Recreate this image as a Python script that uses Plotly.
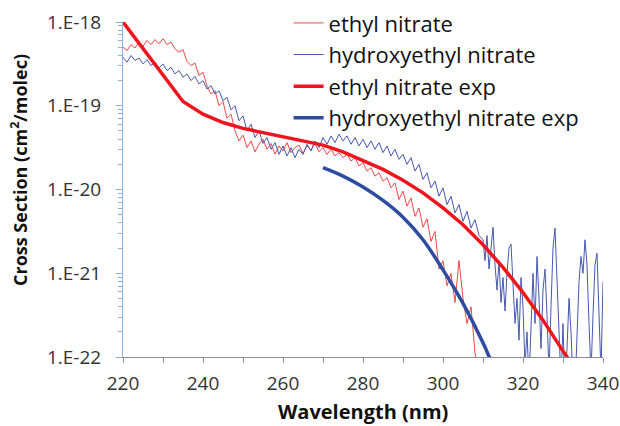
import plotly.graph_objects as go

# ---- data (log10 of cross section) ----
en_wl = list(range(220, 310))
en_log = [-18.30, -18.34, -18.27, -18.31, -18.24, -18.29, -18.22, -18.27, -18.21, -18.26,
          -18.20, -18.27, -18.24, -18.32, -18.36, -18.33, -18.47, -18.52, -18.49, -18.64,
          -18.60, -18.76, -18.86, -18.82, -19.00, -18.95, -19.15, -19.10, -19.30, -19.42,
          -19.35, -19.50, -19.42, -19.55, -19.46, -19.40, -19.52, -19.45, -19.58, -19.48,
          -19.54, -19.44, -19.56, -19.50, -19.47, -19.57, -19.48, -19.53, -19.45, -19.55,
          -19.50, -19.58, -19.52, -19.60, -19.56, -19.62, -19.58, -19.66, -19.62, -19.72,
          -19.68, -19.78, -19.74, -19.84, -19.80, -19.90, -19.86, -19.98, -19.92, -20.12,
          -20.02, -20.20, -20.10, -20.32, -20.22, -20.45, -20.35, -20.62, -20.50, -20.95,
          -20.85, -21.15, -21.00, -21.35, -20.85, -21.30, -21.60, -21.40, -21.95, -22.20]

hen_wl = list(range(220, 310)) + [310 + 0.5 * i for i in range(61)]
hen_log = [-18.42, -18.48, -18.40, -18.46, -18.43, -18.50, -18.45, -18.52, -18.48, -18.55,
           -18.50, -18.58, -18.54, -18.62, -18.58, -18.66, -18.62, -18.70, -18.65, -18.74,
           -18.70, -18.80, -18.76, -18.86, -18.82, -18.94, -18.90, -19.05, -19.00, -19.18,
           -19.12, -19.30, -19.22, -19.38, -19.30, -19.45, -19.38, -19.52, -19.44, -19.58,
           -19.48, -19.60, -19.50, -19.62, -19.52, -19.58, -19.46, -19.54, -19.42, -19.50,
           -19.38, -19.46, -19.36, -19.44, -19.34, -19.42, -19.36, -19.46, -19.38, -19.48,
           -19.40, -19.50, -19.42, -19.52, -19.44, -19.56, -19.48, -19.60, -19.52, -19.64,
           -19.58, -19.70, -19.62, -19.78, -19.70, -19.88, -19.80, -19.98, -19.90, -20.08,
           -19.98, -20.18, -20.08, -20.28, -20.18, -20.38, -20.26, -20.46, -20.36, -20.55,
           # 310 .. 340 step 0.5
           -20.60, -20.85, -20.55, -20.95, -20.70, -20.45, -20.90, -21.20, -20.85, -21.35,
           -21.05, -21.45, -21.00, -20.70, -20.65, -21.20, -21.60, -21.30, -21.80, -21.05,
           -21.40, -22.10, -21.70, -22.30, -21.50, -21.00, -21.60, -20.80, -21.30, -21.90,
           -21.20, -20.95, -21.50, -22.20, -21.40, -20.70, -20.46, -21.10, -21.70, -22.30,
           -21.60, -22.40, -21.90, -21.30, -21.70, -22.30, -22.40, -21.80, -21.10, -20.80,
           -21.00, -20.60, -20.90, -21.60, -22.20, -21.50, -20.90, -20.76, -21.40, -22.20,
           -21.10]

en_exp_wl = [220, 225, 230, 235, 240, 245, 250, 255, 260, 265, 270, 275, 280, 285, 290,
             295, 300, 305, 310, 315, 320, 325, 330, 331.3]
en_exp_log = [-18.0, -18.32, -18.64, -18.95, -19.10, -19.20, -19.27, -19.32, -19.36, -19.41,
              -19.47, -19.55, -19.65, -19.76, -19.89, -20.04, -20.22, -20.42, -20.66, -20.93,
              -21.23, -21.56, -21.93, -22.02]

hen_exp_wl = [270, 275, 280, 285, 290, 295, 300, 305, 310, 312]
hen_exp_log = [-19.74, -19.84, -19.97, -20.13, -20.33, -20.60, -20.96, -21.36, -21.83, -22.05]

ytick_vals = [1e-22, 1e-21, 1e-20, 1e-19, 1e-18]
ytick_text = ["1.E-22", "1.E-21", "1.E-20", "1.E-19", "1.E-18"]


def to_lin(v):
    return [10 ** x for x in v]


fig = go.Figure()
fig.add_trace(go.Scatter(x=en_wl, y=to_lin(en_log), mode="lines", name="ethyl nitrate",
                         legendgroup="a", line=dict(color="rgb(242,70,70)", width=1)))
fig.add_trace(go.Scatter(x=hen_wl, y=to_lin(hen_log), mode="lines", name="hydroxyethyl nitrate",
                         legendgroup="b", line=dict(color="rgb(70,88,175)", width=1)))
fig.add_trace(go.Scatter(x=en_exp_wl, y=to_lin(en_exp_log), mode="lines", name="ethyl nitrate exp",
                         legendgroup="c", line=dict(color="rgb(240,20,30)", width=3.5)))
fig.add_trace(go.Scatter(x=hen_exp_wl, y=to_lin(hen_exp_log), mode="lines",
                         name="hydroxyethyl nitrate exp",
                         legendgroup="d", line=dict(color="rgb(46,76,160)", width=3.5, shape="spline")))

minor_vals = [m * 10 ** e for e in range(-22, -18) for m in range(2, 10)]

fig.update_layout(
    width=620, height=426,
    margin=dict(l=123, r=17, t=22, b=69, autoexpand=False),
    paper_bgcolor="white", plot_bgcolor="white",
    font=dict(family="Open Sans", color="#333"),
    showlegend=True,
    legend=dict(x=0.345, y=0.995, yref="container", xanchor="left", yanchor="top",
                bgcolor="rgba(0,0,0,0)", font=dict(size=22, color="#111"),
                tracegroupgap=0, itemwidth=30),
    xaxis=dict(range=[220, 340], dtick=20, tick0=220, showgrid=False, zeroline=False,
               automargin=False,
               showline=True, linecolor="#8c8c8c", linewidth=1,
               ticks="outside", ticklen=5, tickcolor="#8c8c8c",
               minor=dict(dtick=10, ticks="outside", ticklen=5, tickcolor="#8c8c8c"),
               ticklabelstandoff=4,
               tickfont=dict(size=19, color="#333")),
    yaxis=dict(type="log", range=[-22, -18], showgrid=False, zeroline=False,
               automargin=False,
               showline=True, linecolor="#8eb2de", linewidth=1,
               tickmode="array", tickvals=ytick_vals, ticktext=ytick_text,
               ticks="outside", ticklen=6, tickcolor="#8eb2de",
               minor=dict(tickmode="array", tickvals=minor_vals, ticks="outside", ticklen=4,
                          tickcolor="#8eb2de"),
               ticklabelstandoff=11,
               tickfont=dict(size=19, color="#333")),
    annotations=[
        dict(text="<b>Wavelength (nm)</b>", xref="paper", yref="paper",
             x=0.5, y=-(411 - 357) / 335, xanchor="center", yanchor="middle",
             showarrow=False, font=dict(size=20, color="#111")),
        dict(text="<b>Cross Section (cm<sup>2</sup>/molec)</b>", xref="paper", yref="paper",
             x=-(123 - 19) / 480, y=(357 - 170) / 335, xanchor="center", yanchor="middle",
             textangle=-90, showarrow=False, font=dict(size=18, color="#111")),
    ],
)

fig.write_html("out.html")
